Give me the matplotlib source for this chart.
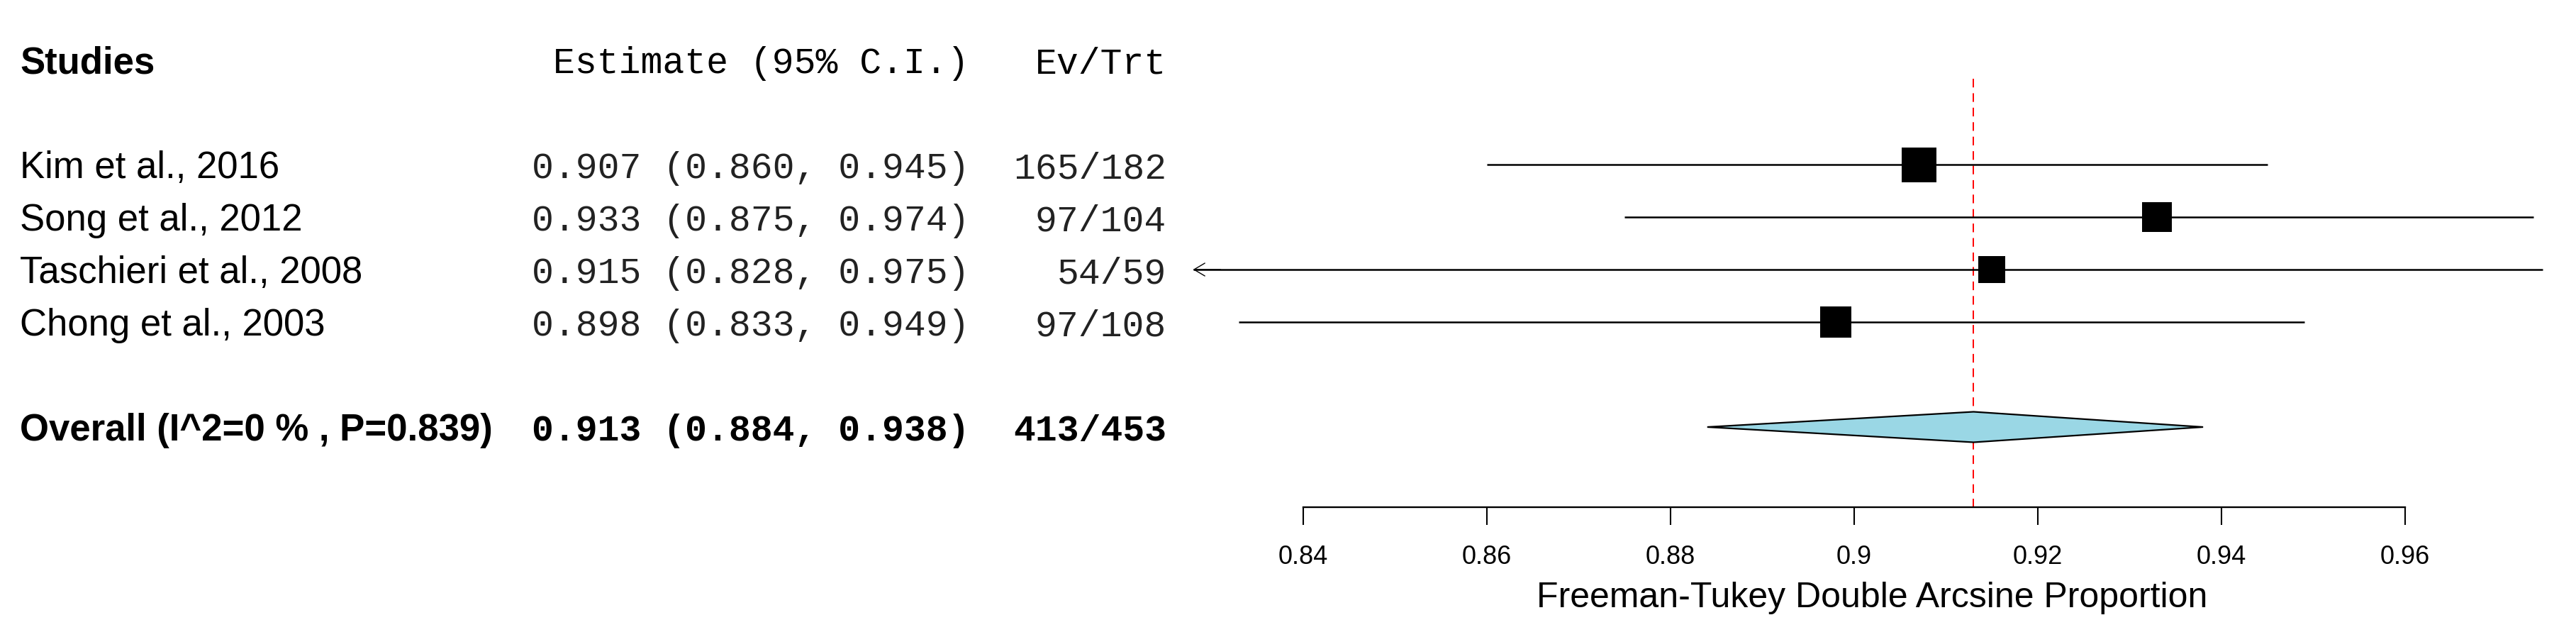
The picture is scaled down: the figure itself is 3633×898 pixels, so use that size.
import matplotlib
matplotlib.use("Agg")
import matplotlib.pyplot as plt
from matplotlib.patches import Polygon
import numpy as np

# ---------------- data ----------------
studies = ["Kim et al., 2016", "Song et al., 2012", "Taschieri et al., 2008", "Chong et al., 2003"]
estimates = [0.907, 0.933, 0.915, 0.898]
ci_lower = [0.860, 0.875, 0.828, 0.833]
ci_upper = [0.945, 0.974, 0.975, 0.949]
events = [165, 97, 54, 97]
totals = [182, 104, 59, 108]

overall_label = "Overall (I^2=0 % , P=0.839)"
overall_est = 0.913
overall_lower = 0.884
overall_upper = 0.938
overall_events = 413
overall_total = 453

tick_values = [0.84, 0.86, 0.88, 0.90, 0.92, 0.94, 0.96]
tick_labels = ["0.84", "0.86", "0.88", "0.9", "0.92", "0.94", "0.96"]
x_label = "Freeman-Tukey Double Arcsine Proportion"
header_study = "Studies"
header_est = "Estimate (95% C.I.)"
header_ev = "Ev/Trt"
plot_lower_limit = 0.83  # CIs below this get an arrow

# ---------------- layout ----------------
W, H, DPI = 3633, 898, 100
fig = plt.figure(figsize=(W / DPI, H / DPI), dpi=DPI)
ax = fig.add_axes([0, 0, 1, 1])

px_per_unit = 12950.0
first_tick_px = 1838.0
ax.set_xlim(tick_values[0] - first_tick_px / px_per_unit,
            tick_values[0] + (W - first_tick_px) / px_per_unit)

row_px = 74.0
first_row_px = 232.0
ax.set_ylim((H - first_row_px) / row_px, -first_row_px / row_px)

study_rows = np.arange(len(studies))
overall_row = len(studies) + 1
header_row = -2
axis_row = 6.53
text_off = 0.26

SANS = "Liberation Sans"
MONO = "Liberation Mono"
lab_fs = 38
mono_fs = 37

ytr = ax.get_yaxis_transform()  # x in axes fraction, y in data
x_lab = 28 / W
x_est = 1367 / W
x_ev = 1645 / W

# headers
ax.text(x_lab, header_row + text_off, header_study, transform=ytr, family=SANS,
        fontsize=lab_fs, fontweight="bold", ha="left", va="baseline")
ax.text(x_est, header_row + text_off, header_est, transform=ytr, family=MONO,
        fontsize=mono_fs, ha="right", va="baseline")
ax.text(x_ev, header_row + text_off, header_ev, transform=ytr, family=MONO,
        fontsize=mono_fs, ha="right", va="baseline")

# study rows
for r, name, est, lo, hi, ev, tot in zip(study_rows, studies, estimates, ci_lower,
                                         ci_upper, events, totals):
    ax.text(x_lab, r + text_off, name, transform=ytr, family=SANS,
            fontsize=lab_fs, ha="left", va="baseline")
    ax.text(x_est, r + text_off, f"{est:.3f} ({lo:.3f}, {hi:.3f})", transform=ytr,
            family=MONO, fontsize=mono_fs, ha="right", va="baseline", color="#222222")
    ax.text(x_ev, r + text_off, f"{ev}/{tot}", transform=ytr, family=MONO,
            fontsize=mono_fs, ha="right", va="baseline", color="#222222")

# overall row
ax.text(x_lab, overall_row + text_off, overall_label, transform=ytr, family=SANS,
        fontsize=lab_fs, fontweight="bold", ha="left", va="baseline")
ax.text(x_est, overall_row + text_off,
        f"{overall_est:.3f} ({overall_lower:.3f}, {overall_upper:.3f})", transform=ytr,
        family=MONO, fontsize=mono_fs, fontweight="bold", ha="right", va="baseline")
ax.text(x_ev, overall_row + text_off, f"{overall_events}/{overall_total}", transform=ytr,
        family=MONO, fontsize=mono_fs, fontweight="bold", ha="right", va="baseline")

# reference line at overall estimate
ax.plot([overall_est, overall_est], [-1.635, axis_row], color="red", lw=1.4,
        dashes=(6.3, 4.2), zorder=1)

# CI lines and squares
sq = np.sqrt(np.array(totals, dtype=float))
sizes_px = 38 + 11 * (sq - sq.min()) / (sq.max() - sq.min())
for r, est, lo, hi, s in zip(study_rows, estimates, ci_lower, ci_upper, sizes_px):
    ax.plot([lo, hi], [r, r], color="black", lw=1.8, solid_capstyle="butt", zorder=2)
    if lo < plot_lower_limit:
        ax.annotate("", xy=(lo, r), xytext=(lo + 0.003, r),
                    arrowprops=dict(arrowstyle="->,head_length=1.1,head_width=0.65",
                                    lw=1.0, color="black", shrinkA=0, shrinkB=0),
                    zorder=3)
    ax.plot([est], [r], marker="s", markersize=s * 72 / DPI, color="black",
            markeredgewidth=0, zorder=3)

# diamond
hh = 21.5 / row_px
diamond = Polygon([(overall_lower, overall_row), (overall_est, overall_row - hh),
                   (overall_upper, overall_row), (overall_est, overall_row + hh)],
                  closed=True, facecolor="#9AD7E5", edgecolor="black", lw=1.6, zorder=3)
ax.add_patch(diamond)

# x axis
for s in ["left", "right", "top"]:
    ax.spines[s].set_visible(False)
ax.spines["bottom"].set_position(("data", axis_row))
ax.spines["bottom"].set_bounds(tick_values[0], tick_values[-1])
ax.spines["bottom"].set_linewidth(1.7)
ax.set_yticks([])
ax.set_xticks(tick_values)
ax.set_xticklabels(tick_labels, family=SANS, fontsize=26)
ax.tick_params(axis="x", direction="out", length=18, width=1.5, pad=20)

fig.text(2640 / W, 1 - 843 / H, x_label, family=SANS, fontsize=36,
         ha="center", va="center")

fig.savefig("out.png", dpi=DPI, facecolor="white")
